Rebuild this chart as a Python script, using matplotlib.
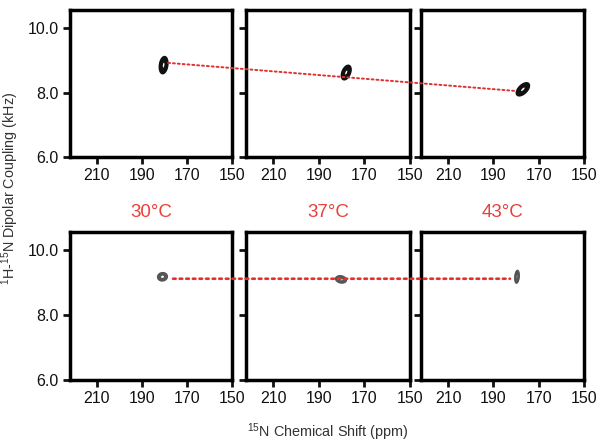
import numpy as np
import matplotlib
matplotlib.use("Agg")
import matplotlib.pyplot as plt
from matplotlib.patches import ConnectionPatch

plt.rcParams["font.family"] = ["Liberation Sans", "DejaVu Sans"]
plt.rcParams["mathtext.fontset"] = "custom"
plt.rcParams["mathtext.rm"] = "Liberation Sans"
plt.rcParams["mathtext.default"] = "regular"

# temperatures for each column
temps = ["30°C", "37°C", "43°C"]

# peak centres (15N ppm, dipolar coupling kHz), top row and bottom row
top_ppm = [180.4, 178.0, 177.0]
top_khz = [8.85, 8.62, 8.10]
bot_ppm = [180.9, 180.3, 179.6]
bot_khz = [9.18, 9.10, 9.18]

# peak shape: half axes (px) and angle of the long axis (deg)
top_a = [8.5, 7.5, 8.0]
top_b = [4.0, 4.0, 4.2]
top_ang = [82, 68, 45]
bot_a = [5.0, 5.5, 6.5]
bot_b = [4.2, 3.6, 2.2]
bot_ang = [10, -12, 85]

# dotted guide lines (start in first panel, end in last panel)
top_line = [(178.4, 8.92), (180.5, 8.05)]
bot_line = [(176.2, 9.12), (182.7, 9.12)]

xticks = [210, 190, 170, 150]
yticks = [6.0, 8.0, 10.0]

W, H = 601, 444
fig = plt.figure(figsize=(W / 100, H / 100), dpi=100)

cols = [(70, 232), (246, 410), (421, 584)]
rows = [(10, 157), (232, 380)]


def make_ax(c, r):
    x0, x1 = cols[c]
    y0, y1 = rows[r]
    ax = fig.add_axes([x0 / W, 1 - y1 / H, (x1 - x0) / W, (y1 - y0) / H])
    ax.set_xlim(222, 150)
    ax.set_ylim(6.0, 10.56)
    ax.set_xticks(xticks)
    ax.set_yticks(yticks)
    ax.set_yticklabels(["%.1f" % v for v in yticks] if c == 0 else [])
    for s in ax.spines.values():
        s.set_linewidth(2.5)
    ax.tick_params(direction="out", length=5, width=2, labelsize=11.5,
                   colors="#111111", pad=3)
    return ax


def draw_peak(ax, x0, y0, a, b, ang, color, lw):
    # pixel scale of the data axes
    sx = 162 / 72.0
    sy = 147 / 4.56
    xs = np.linspace(x0 - 8, x0 + 8, 160)
    ys = np.linspace(y0 - 0.6, y0 + 0.6, 160)
    X, Y = np.meshgrid(xs, ys)
    u = -(X - x0) * sx
    v = (Y - y0) * sy
    t = np.deg2rad(ang)
    ur = u * np.cos(t) + v * np.sin(t)
    vr = -u * np.sin(t) + v * np.cos(t)
    Z = np.exp(-((ur / a) ** 2 + (vr / b) ** 2))
    ax.contour(X, Y, Z, levels=[0.37, 0.48, 0.6, 0.72, 0.84],
               colors=color, linewidths=lw, zorder=3)


axes = [[make_ax(c, r) for c in range(3)] for r in range(2)]

for c in range(3):
    draw_peak(axes[0][c], top_ppm[c], top_khz[c], top_a[c], top_b[c],
              top_ang[c], "#111111", 1.3)
    draw_peak(axes[1][c], bot_ppm[c], bot_khz[c], bot_a[c], bot_b[c],
              bot_ang[c], "#555555", 0.9)

for r, line, lw in [(0, top_line, 1.4), (1, bot_line, 1.9)]:
    con = ConnectionPatch(xyA=line[0], coordsA=axes[r][0].transData,
                          xyB=line[1], coordsB=axes[r][2].transData,
                          color="#e03030", linestyle=(0, (1, 1.5)),
                          linewidth=lw, zorder=10)
    fig.add_artist(con)

# temperature labels between the rows
for c, t in enumerate(temps):
    x0, x1 = cols[c]
    fig.text((x0 + x1) / 2 / W, 1 - 212 / H, t, color="#e8403c",
             fontsize=13.5, ha="center", va="center")

fig.text(10 / W, 1 - 188 / H, "$^{1}$H-$^{15}$N Dipolar Coupling (kHz)",
         rotation=90, ha="center", va="center", fontsize=10.4, color="#333333")
fig.text(328 / W, 1 - 432 / H, "$^{15}$N Chemical Shift (ppm)",
         ha="center", va="center", fontsize=10.4, color="#333333")

fig.savefig("out.png", dpi=100)
